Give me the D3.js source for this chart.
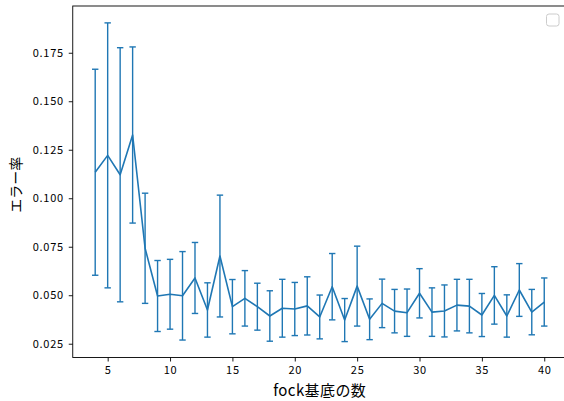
<!DOCTYPE html>
<html>
<head>
<meta charset="utf-8">
<script src="https://cdn.jsdelivr.net/npm/d3@7"></script>
<style>
  html, body { margin: 0; padding: 0; background: #fff; }
  svg { display: block; }
  text { font-family: "Noto Sans CJK JP", "Noto Sans", sans-serif; }
</style>
</head>
<body>
<svg id="chart" width="564" height="401"></svg>
<script>
// ---- data ----
const nBasis = [4,5,6,7,8,9,10,11,12,13,14,15,16,17,18,19,20,21,22,23,24,25,26,27,28,29,30,31,32,33,34,35,36,37,38,39,40];
const errorRate = [0.1134,0.1221,0.1121,0.1326,0.0742,0.0496,0.0505,0.0497,0.0589,0.0424,0.0702,0.0441,0.0484,0.0441,0.0393,0.0433,0.0429,0.0445,0.0388,0.0544,0.0372,0.0547,0.0376,0.0458,0.0418,0.0410,0.0510,0.0413,0.0419,0.0449,0.0444,0.0398,0.0499,0.0393,0.0527,0.0413,0.0465];
const errorStd = [0.0531,0.0683,0.0655,0.0454,0.0284,0.0183,0.0180,0.0228,0.0183,0.0140,0.0314,0.0140,0.0143,0.0121,0.0130,0.0149,0.0137,0.0150,0.0113,0.0171,0.0111,0.0206,0.0105,0.0125,0.0112,0.0122,0.0127,0.0125,0.0134,0.0133,0.0138,0.0111,0.0148,0.0109,0.0136,0.0117,0.0124];
const xTicks = [5,10,15,20,25,30,35,40];
const yTicks = [0.025,0.050,0.075,0.100,0.125,0.150,0.175];
const xLabel = "fock基底の数";
const yLabel = "エラー率";

const data = nBasis.map((n,i)=>({n, m: errorRate[i], s: errorStd[i]}));

// ---- layout ----
const svg = d3.select("#chart");
const L = 72.75, R = 566.7, T = 6, B = 357.5;
const color = "#1f77b4";

const x = d3.scaleLinear().domain([2.2, 41.8]).range([L, R]);
const y = d3.scaleLinear().domain([0.0179, 0.1991]).range([B, T]);

// axes
const xAxis = d3.axisBottom(x).tickValues(xTicks).tickSize(4).tickPadding(5).tickFormat(d3.format("d"));
const yAxis = d3.axisLeft(y).tickValues(yTicks).tickSize(4).tickPadding(5).tickFormat(d3.format(".3f"));

const gx = svg.append("g").attr("transform", `translate(0,${B})`).call(xAxis);
const gy = svg.append("g").attr("transform", `translate(${L},0)`).call(yAxis);
[gx, gy].forEach(g => {
  g.select(".domain").remove();
  g.selectAll(".tick line").attr("stroke", "#000").attr("stroke-width", 0.9);
  g.selectAll(".tick text").attr("fill", "#000").style("font-size", "11px").style("letter-spacing", "0.7px");
});

// frame (spines)
svg.append("rect").attr("x", L).attr("y", T).attr("width", R - L).attr("height", B - T)
  .attr("fill", "none").attr("stroke", "#000").attr("stroke-width", 0.9);

// error bars
const cap = 3.2;
const eb = svg.append("g").attr("stroke", color).attr("stroke-width", 1.4).attr("fill", "none");
eb.selectAll("line.v").data(data).join("line").attr("class","v")
  .attr("x1", d => x(d.n)).attr("x2", d => x(d.n))
  .attr("y1", d => y(d.m - d.s)).attr("y2", d => y(d.m + d.s));
eb.selectAll("line.t").data(data).join("line").attr("class","t")
  .attr("x1", d => x(d.n) - cap).attr("x2", d => x(d.n) + cap)
  .attr("y1", d => y(d.m + d.s)).attr("y2", d => y(d.m + d.s));
eb.selectAll("line.b").data(data).join("line").attr("class","b")
  .attr("x1", d => x(d.n) - cap).attr("x2", d => x(d.n) + cap)
  .attr("y1", d => y(d.m - d.s)).attr("y2", d => y(d.m - d.s));

// mean line
svg.append("path").datum(data)
  .attr("fill", "none").attr("stroke", color).attr("stroke-width", 1.6)
  .attr("stroke-linejoin", "round")
  .attr("d", d3.line().x(d => x(d.n)).y(d => y(d.m)));

// empty legend box
svg.append("rect").attr("x", 546.5).attr("y", 14).attr("width", 12.5).attr("height", 12)
  .attr("rx", 2.5).attr("fill", "#fff").attr("fill-opacity", 0.8)
  .attr("stroke", "#cccccc").attr("stroke-width", 1);

// labels
svg.append("text").attr("x", (L + R) / 2).attr("y", 396)
  .attr("text-anchor", "middle").style("font-size", "15px").style("letter-spacing", "0.4px")
  .attr("fill", "#000").text(xLabel);
svg.append("text").attr("transform", `translate(21,${(T + B) / 2 + 3}) rotate(-90)`)
  .attr("text-anchor", "middle").style("font-size", "14px").attr("fill", "#000").text(yLabel);
</script>
</body>
</html>
